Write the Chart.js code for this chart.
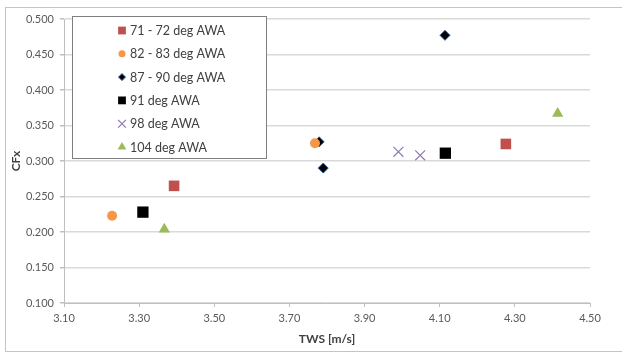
<!DOCTYPE html>
<html>
<head>
<meta charset="utf-8">
<title>CFx vs TWS</title>
<script src="https://cdn.jsdelivr.net/npm/chart.js@4.4.1/dist/chart.umd.min.js"></script>
<style>
  html, body { margin: 0; padding: 0; background: #fff; }
  #wrap { position: relative; width: 622px; height: 354px; }
  #frame { position: absolute; left: 5px; top: 7px; width: 640px; height: 345px;
           border: 1px solid #c4c4c4; box-sizing: border-box; pointer-events: none; }
  canvas { position: absolute; left: 0; top: 0; }
</style>
</head>
<body>
<div id="wrap">
  <canvas id="grafico" width="622" height="354"></canvas>
  <div id="frame"></div>
</div>
<script>
// series: true wind speed (m/s) and force coefficient CFx
const awa71x = [3.393, 4.276];
const awa71y = [0.265, 0.324];
const awa82x = [3.228, 3.768];
const awa82y = [0.223, 0.325];
const awa87x = [3.779, 3.790, 4.114];
const awa87y = [0.327, 0.290, 0.477];
const awa91x = [3.310, 4.115];
const awa91y = [0.228, 0.311];
const awa98x = [3.990, 4.048];
const awa98y = [0.313, 0.308];
const awa104x = [3.367, 4.414];
const awa104y = [0.204, 0.367];

const xTicks = [3.10, 3.30, 3.50, 3.70, 3.90, 4.10, 4.30, 4.50];
const yTicks = [0.100, 0.150, 0.200, 0.250, 0.300, 0.350, 0.400, 0.450, 0.500];

function pontos(xs, ys) {
    return xs.map((x, i) => ({ x: x, y: ys[i] }));
}

const fonte = "Lato, 'Open Sans', sans-serif";

const series = [
    { label: '71 - 72 deg AWA', data: pontos(awa71x, awa71y), pointStyle: 'rect', radius: 7.5,
      backgroundColor: '#c0504d', borderColor: '#c0504d', borderWidth: 0, legRadius: 5.5 },
    { label: '82 - 83 deg AWA', data: pontos(awa82x, awa82y), pointStyle: 'circle', radius: 5,
      backgroundColor: '#f79646', borderColor: '#f79646', borderWidth: 0, legRadius: 3.5 },
    { label: '87 - 90 deg AWA', data: pontos(awa87x, awa87y), pointStyle: 'rectRot', radius: 5,
      backgroundColor: '#000000', borderColor: '#2d5a9a', borderWidth: 1, legRadius: 3.5 },
    { label: '91 deg AWA', data: pontos(awa91x, awa91y), pointStyle: 'rect', radius: 8,
      backgroundColor: '#000000', borderColor: '#000000', borderWidth: 0, legRadius: 5.5 },
    { label: '98 deg AWA', data: pontos(awa98x, awa98y), pointStyle: 'crossRot', radius: 7,
      backgroundColor: '#8f7ab3', borderColor: '#8f7ab3', borderWidth: 1.2, legRadius: 5.5 },
    { label: '104 deg AWA', data: pontos(awa104x, awa104y), pointStyle: 'triangle', radius: 6.5,
      backgroundColor: '#9bbb59', borderColor: '#9bbb59', borderWidth: 0, legRadius: 5 }
];

// legenda desenhada dentro da area do grafico
const legendaInterna = {
    id: 'legendaInterna',
    afterDraw(chart) {
        const ctx = chart.ctx;
        const bx = 72.5, by = 16.5, bw = 194, bh = 142;
        ctx.save();
        ctx.fillStyle = '#ffffff';
        ctx.fillRect(bx, by, bw, bh);
        ctx.strokeStyle = '#7f7f7f';
        ctx.lineWidth = 1;
        ctx.strokeRect(bx, by, bw, bh);
        ctx.font = '12.5px ' + fonte;
        ctx.textBaseline = 'middle';
        ctx.textAlign = 'left';
        series.forEach((s, i) => {
            const y = 30.5 + i * 23.3;
            ctx.fillStyle = s.backgroundColor;
            ctx.strokeStyle = s.borderColor;
            ctx.lineWidth = s.borderWidth;
            Chart.helpers.drawPoint(ctx, {
                pointStyle: s.pointStyle, radius: s.legRadius, rotation: 0, borderWidth: s.borderWidth
            }, 122, y);
            ctx.fillStyle = '#404040';
            ctx.fillText(s.label, 130, y + 0.5);
        });
        ctx.restore();
    }
};

new Chart(document.getElementById('grafico'), {
    type: 'scatter',
    data: {
        datasets: series.map(s => ({
            label: s.label,
            data: s.data,
            pointStyle: s.pointStyle,
            pointRadius: s.radius,
            pointHoverRadius: s.radius,
            backgroundColor: s.backgroundColor,
            borderColor: s.borderColor,
            borderWidth: s.borderWidth
        }))
    },
    options: {
        responsive: false,
        animation: false,
        devicePixelRatio: 1,
        layout: { padding: { left: 0, top: 19, right: 32, bottom: 0 } },
        plugins: {
            legend: { display: false },
            tooltip: { enabled: false }
        },
        scales: {
            x: {
                type: 'linear',
                min: 3.1,
                max: 4.5,
                afterFit(scale) { scale.height = 51; },
                afterBuildTicks(scale) { scale.ticks = xTicks.map(v => ({ value: v })); },
                grid: { drawOnChartArea: false, drawTicks: true, tickLength: 4, color: '#bfbfbf' },
                border: { color: '#bfbfbf', width: 1 },
                ticks: {
                    padding: 5,
                    color: '#595959',
                    font: { family: fonte, size: 11 },
                    maxRotation: 0,
                    callback: v => Number(v).toFixed(2)
                },
                title: {
                    display: true,
                    text: 'TWS [m/s]',
                    color: '#404040',
                    font: { family: fonte, size: 12, weight: 'bold' },
                    padding: { top: 0, bottom: 8 }
                }
            },
            y: {
                type: 'linear',
                min: 0.1,
                max: 0.5,
                afterFit(scale) { scale.width = 64; },
                afterBuildTicks(scale) { scale.ticks = yTicks.map(v => ({ value: v })); },
                grid: { color: '#d9d9d9', lineWidth: 1.5, drawTicks: true, tickLength: 4, tickColor: '#bfbfbf' },
                border: { color: '#bfbfbf', width: 1 },
                ticks: {
                    padding: 6,
                    color: '#595959',
                    font: { family: fonte, size: 11 },
                    callback: v => Number(v).toFixed(3)
                },
                title: {
                    display: true,
                    text: 'CFx',
                    color: '#404040',
                    font: { family: fonte, size: 12, weight: 'bold' },
                    padding: { top: 9, bottom: 0 }
                }
            }
        }
    },
    plugins: [legendaInterna]
});
</script>
</body>
</html>
